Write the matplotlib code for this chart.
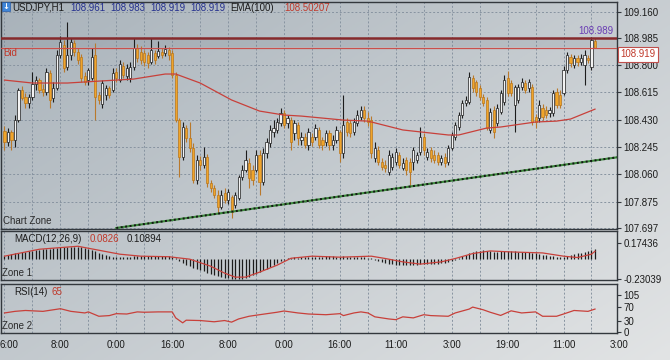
import numpy as np
import matplotlib
matplotlib.use("Agg")
import matplotlib.pyplot as plt
from matplotlib.patches import Rectangle
from matplotlib.transforms import blended_transform_factory

plt.rcParams['font.family'] = ['Liberation Sans', 'DejaVu Sans']

# --- USDJPY H1 bars ---
opens = [108.354, 108.279, 108.347, 108.293, 108.428, 108.632, 108.584, 108.544, 108.584, 108.672,
         108.699, 108.638, 108.618, 108.747, 108.577, 108.645, 108.869, 108.936, 108.787, 108.869,
         108.950, 108.889, 108.855, 108.726, 108.699, 108.713, 108.869, 108.598, 108.537, 108.598,
         108.645, 108.632, 108.754, 108.699, 108.794, 108.726, 108.713, 108.787, 108.916, 108.889,
         108.882, 108.869, 108.821, 108.882, 108.862, 108.889, 108.882, 108.903, 108.882, 108.733,
         108.428, 108.178, 108.374, 108.306, 108.239, 108.022, 108.157, 108.123, 108.178, 108.002,
         107.968, 107.920, 107.839, 107.934, 107.886, 107.907, 107.852, 107.900, 108.042, 108.090,
         108.137, 108.090, 108.090, 108.191, 108.008, 108.205, 108.273, 108.347, 108.361, 108.408,
         108.476, 108.408, 108.428, 108.340, 108.395, 108.293, 108.313, 108.259, 108.313, 108.313,
         108.361, 108.293, 108.279, 108.340, 108.259, 108.293, 108.347, 108.205, 108.415, 108.408,
         108.347, 108.408, 108.449, 108.496, 108.442, 108.428, 108.171, 108.225, 108.144, 108.123,
         108.076, 108.110, 108.144, 108.191, 108.103, 108.157, 108.144, 108.144, 108.157, 108.212,
         108.313, 108.178, 108.225, 108.191, 108.191, 108.144, 108.178, 108.144, 108.239, 108.313,
         108.381, 108.462, 108.544, 108.550, 108.713, 108.686, 108.645, 108.584, 108.564, 108.361,
         108.496, 108.408, 108.483, 108.550, 108.713, 108.679, 108.530, 108.564, 108.652, 108.679,
         108.645, 108.652, 108.449, 108.442, 108.510, 108.496, 108.476, 108.476, 108.618, 108.598,
         108.611, 108.767, 108.855, 108.801, 108.848, 108.821, 108.801, 108.848, 108.787, 108.961]
highs = [108.388, 108.374, 108.361, 108.462, 108.645, 108.659, 108.611, 108.605, 108.754, 108.726,
         108.713, 108.672, 108.781, 108.767, 108.686, 108.903, 108.997, 108.970, 109.092, 108.984,
         108.970, 108.916, 108.876, 108.754, 108.781, 108.916, 108.950, 108.618, 108.699, 108.665,
         108.659, 108.781, 108.781, 108.835, 108.821, 108.808, 108.821, 108.984, 108.943, 108.930,
         108.903, 108.889, 108.984, 108.903, 108.964, 108.916, 108.936, 108.923, 108.903, 108.754,
         108.442, 108.415, 108.395, 108.415, 108.273, 108.191, 108.184, 108.245, 108.198, 108.022,
         107.988, 107.954, 107.954, 107.968, 107.961, 107.920, 107.941, 108.056, 108.123, 108.225,
         108.171, 108.123, 108.225, 108.225, 108.239, 108.306, 108.395, 108.428, 108.442, 108.510,
         108.496, 108.462, 108.449, 108.428, 108.415, 108.347, 108.340, 108.374, 108.340, 108.401,
         108.381, 108.313, 108.361, 108.361, 108.327, 108.388, 108.361, 108.598, 108.442, 108.428,
         108.442, 108.496, 108.523, 108.523, 108.483, 108.455, 108.279, 108.252, 108.171, 108.157,
         108.225, 108.205, 108.239, 108.212, 108.171, 108.178, 108.171, 108.245, 108.212, 108.381,
         108.340, 108.239, 108.245, 108.225, 108.212, 108.191, 108.205, 108.259, 108.347, 108.415,
         108.483, 108.564, 108.591, 108.754, 108.733, 108.699, 108.665, 108.605, 108.584, 108.510,
         108.523, 108.537, 108.632, 108.733, 108.760, 108.699, 108.665, 108.672, 108.713, 108.699,
         108.706, 108.672, 108.469, 108.564, 108.537, 108.523, 108.516, 108.632, 108.645, 108.632,
         108.794, 108.889, 108.876, 108.869, 108.869, 108.876, 108.903, 108.869, 108.989, 108.983]
lows = [108.225, 108.252, 108.225, 108.245, 108.415, 108.564, 108.510, 108.510, 108.564, 108.632,
        108.611, 108.591, 108.598, 108.510, 108.550, 108.632, 108.848, 108.754, 108.767, 108.835,
        108.862, 108.808, 108.686, 108.665, 108.665, 108.699, 108.428, 108.537, 108.510, 108.564,
        108.577, 108.618, 108.686, 108.686, 108.713, 108.699, 108.686, 108.767, 108.821, 108.808,
        108.794, 108.781, 108.808, 108.808, 108.848, 108.848, 108.862, 108.835, 108.713, 108.415,
        108.042, 108.157, 108.279, 108.212, 108.002, 107.995, 108.090, 108.103, 107.974, 107.941,
        107.900, 107.798, 107.825, 107.866, 107.859, 107.764, 107.832, 107.886, 108.022, 108.076,
        107.968, 107.988, 108.076, 107.920, 107.988, 108.171, 108.245, 108.313, 108.340, 108.388,
        108.374, 108.374, 108.225, 108.293, 108.259, 108.259, 108.239, 108.225, 108.252, 108.293,
        108.239, 108.225, 108.252, 108.225, 108.225, 108.273, 108.144, 108.171, 108.320, 108.313,
        108.327, 108.388, 108.428, 108.415, 108.388, 108.171, 108.144, 108.123, 108.090, 108.076,
        108.056, 108.090, 108.123, 108.103, 108.090, 108.056, 107.974, 108.090, 108.137, 108.191,
        108.191, 108.157, 108.144, 108.137, 108.123, 108.123, 108.110, 108.123, 108.225, 108.293,
        108.361, 108.442, 108.523, 108.537, 108.618, 108.591, 108.564, 108.523, 108.361, 108.340,
        108.306, 108.388, 108.469, 108.530, 108.591, 108.591, 108.347, 108.544, 108.632, 108.611,
        108.618, 108.395, 108.374, 108.415, 108.428, 108.442, 108.449, 108.455, 108.510, 108.510,
        108.598, 108.747, 108.787, 108.781, 108.794, 108.801, 108.665, 108.815, 108.767, 108.919]
closes = [108.279, 108.347, 108.293, 108.428, 108.632, 108.577, 108.544, 108.584, 108.672, 108.699,
          108.632, 108.618, 108.754, 108.564, 108.645, 108.869, 108.957, 108.781, 108.869, 108.957,
          108.889, 108.835, 108.713, 108.686, 108.767, 108.855, 108.584, 108.564, 108.679, 108.645,
          108.598, 108.747, 108.713, 108.808, 108.733, 108.781, 108.787, 108.916, 108.848, 108.835,
          108.821, 108.815, 108.903, 108.835, 108.896, 108.869, 108.909, 108.869, 108.733, 108.428,
          108.178, 108.381, 108.306, 108.239, 108.022, 108.157, 108.123, 108.178, 108.002, 107.968,
          107.920, 107.839, 107.920, 107.886, 107.941, 107.805, 107.920, 108.042, 108.090, 108.157,
          108.035, 108.022, 108.191, 108.008, 108.205, 108.279, 108.361, 108.374, 108.415, 108.476,
          108.395, 108.442, 108.279, 108.408, 108.306, 108.313, 108.259, 108.347, 108.279, 108.374,
          108.259, 108.259, 108.340, 108.259, 108.293, 108.361, 108.205, 108.395, 108.347, 108.340,
          108.415, 108.462, 108.496, 108.442, 108.415, 108.205, 108.239, 108.144, 108.110, 108.103,
          108.191, 108.178, 108.212, 108.123, 108.137, 108.090, 108.076, 108.225, 108.191, 108.313,
          108.225, 108.212, 108.171, 108.157, 108.144, 108.171, 108.137, 108.239, 108.327, 108.395,
          108.462, 108.544, 108.564, 108.720, 108.645, 108.618, 108.584, 108.544, 108.374, 108.483,
          108.347, 108.510, 108.611, 108.699, 108.611, 108.611, 108.652, 108.652, 108.686, 108.632,
          108.686, 108.415, 108.415, 108.530, 108.449, 108.462, 108.496, 108.611, 108.530, 108.530,
          108.767, 108.869, 108.815, 108.848, 108.821, 108.848, 108.869, 108.835, 108.970, 108.919]

# EMA(100) line, read at a few points along the curve
ema_idx = [0, 8, 18, 27, 37, 46, 49, 56, 65, 73, 80, 85, 97, 104, 114, 127, 130, 138, 142, 152, 158, 162, 169]
ema_vals = [108.699, 108.679, 108.679, 108.692, 108.706, 108.740, 108.740, 108.679, 108.564, 108.489,
            108.462, 108.455, 108.428, 108.421, 108.361, 108.327, 108.327, 108.374, 108.381, 108.415,
            108.421, 108.435, 108.50207]

# horizontal levels and trend line
resistance = 108.985
day_high = 108.989
trend_idx = [32, 176]
trend_vals = [107.697, 108.178]

# MACD(12,26,9): main as histogram, signal as line
macd_hist = [0.030, 0.040, 0.050, 0.058, 0.065, 0.072, 0.078, 0.085, 0.090, 0.095,
             0.100, 0.104, 0.108, 0.112, 0.118, 0.124, 0.128, 0.131, 0.133, 0.134,
             0.133, 0.131, 0.128, 0.120, 0.108, 0.095, 0.080, 0.065, 0.050, 0.038,
             0.028, 0.020, 0.015, 0.018, 0.020, 0.022, 0.024, 0.028, 0.030, 0.032,
             0.030, 0.028, 0.030, 0.032, 0.030, 0.028, 0.027, 0.025, 0.020, 0.005,
             -0.030, -0.050, -0.065, -0.080, -0.100, -0.115, -0.130, -0.140, -0.155, -0.165,
             -0.178, -0.190, -0.200, -0.210, -0.218, -0.224, -0.228, -0.226, -0.220, -0.210,
             -0.198, -0.185, -0.170, -0.150, -0.130, -0.110, -0.090, -0.070, -0.050, -0.030,
             -0.012, 0.005, 0.010, 0.015, 0.012, 0.018, 0.020, 0.022, 0.020, 0.018,
             0.020, 0.022, 0.025, 0.028, 0.025, 0.020, 0.022, 0.025, 0.022, 0.020,
             0.018, 0.020, 0.022, 0.015, 0.010, 0.005, -0.010, -0.025, -0.035, -0.045,
             -0.055, -0.060, -0.065, -0.068, -0.070, -0.072, -0.075, -0.072, -0.070, -0.062,
             -0.060, -0.058, -0.060, -0.058, -0.055, -0.052, -0.048, -0.040, -0.025, -0.010,
             0.010, 0.030, 0.045, 0.065, 0.075, 0.085, 0.090, 0.092, 0.088, 0.080,
             0.078, 0.078, 0.080, 0.082, 0.085, 0.083, 0.080, 0.078, 0.076, 0.075,
             0.074, 0.065, 0.058, 0.052, 0.045, 0.038, 0.030, 0.025, 0.020, 0.015,
             0.018, 0.028, 0.040, 0.050, 0.058, 0.065, 0.075, 0.085, 0.095, 0.10894]
sig_idx = [0, 10, 21, 27, 33, 39, 47, 53, 59, 63, 66, 69, 73, 78, 82, 88, 96, 105, 109, 114,
           119, 125, 129, 134, 139, 145, 154, 160, 164, 168, 169]
sig_vals = [0.028, 0.105, 0.138, 0.094, 0.050, 0.028, 0.022, -0.005, -0.083, -0.160, -0.204,
            -0.204, -0.149, -0.072, 0.005, 0.028, 0.017, 0.028, 0.002, -0.035, -0.060, -0.035,
            0.002, 0.057, 0.086, 0.075, 0.064, 0.028, 0.013, 0.050, 0.0826]
macd_ticks = [0.17436, -0.23039]

# RSI(14)
rsi_idx = [0, 3, 6, 11, 14, 16, 19, 23, 24, 27, 30, 32, 35, 38, 40, 44, 48, 49, 51, 52,
           56, 60, 63, 65, 67, 70, 73, 78, 80, 84, 87, 92, 96, 97, 100, 102, 104, 106, 110, 112,
           114, 117, 120, 122, 127, 129, 133, 134, 137, 139, 142, 145, 148, 152, 154, 158, 160, 163, 167, 169]
rsi_vals = [54, 58.5, 61, 58.5, 63, 66, 58.5, 54, 57, 44.6, 46.5, 52, 51, 57, 56, 57, 57, 40, 26, 33.5,
            32.5, 29, 32.5, 28, 37, 44.6, 49, 56, 59.5, 54, 51, 49, 52, 46.5, 54, 57, 54, 43, 37, 35,
            43, 40, 49, 46.5, 44.6, 54, 65, 70.6, 63, 56, 47, 60, 54, 57, 44.6, 44.6, 51, 61, 58.5, 65]
rsi_ticks = [105, 70, 30, 0]

price_ticks = [109.160, 108.985, 108.800, 108.615, 108.430, 108.245, 108.060, 107.875, 107.697]
# first label is the tail of "16:00" cut by the left edge
time_labels = ["6:00", "8:00", "0:00", "16:00", "8:00", "0:00", "16:00", "11:00", "3:00", "19:00", "11:00", "3:00"]
time_idx = [0, 16, 32, 48, 64, 80, 96, 112, 128, 144, 160, 176]

W, H = 670, 360
RED = '#c8403a'
INK = '#1c1c1c'


def px_rect(x0, y0, x1, y1):
    # pixel box with top-left origin -> figure fraction rect
    return [x0 / W, 1 - y1 / H, (x1 - x0) / W, (y1 - y0) / H]


def fx(x):
    return x / W


def fy(y):
    return 1 - y / H


fig = plt.figure(figsize=(6.7, 3.6), dpi=100)

# gradient backdrop
bg = fig.add_axes([0, 0, 1, 1], zorder=-10)
gx, gy = np.meshgrid(np.linspace(0, 1, 240), np.linspace(0, 1, 130))
t = 0.55 * gx + 0.45 * gy
dark = np.array([168, 178, 186]) / 255
light = np.array([226, 228, 229]) / 255
bg.imshow(dark + (light - dark) * t[..., None], aspect='auto', extent=[0, 1, 0, 1], origin='upper')
bg.axis('off')

ax = fig.add_axes(px_rect(1, 2, 617, 229))
ax_m = fig.add_axes(px_rect(1, 231, 617, 280))
ax_r = fig.add_axes(px_rect(1, 284, 617, 333))

for a in (ax, ax_m, ax_r):
    a.set_facecolor('none')
    for s in a.spines.values():
        s.set_color('#33383d')
        s.set_linewidth(1.0)
    a.yaxis.tick_right()
    a.tick_params(axis='y', direction='out', length=3, width=0.8, color='#33383d',
                  labelsize=7, pad=1.5, labelcolor=INK)
    a.tick_params(axis='x', length=0, labelbottom=False)
    a.set_xlim(-1.0, 175.3)
    a.set_xticks(range(0, 176, 8))
    a.grid(True, axis='x', ls=(0, (2, 2)), color='#8793a0', lw=0.7)
    a.set_axisbelow(True)
ax.grid(True, axis='y', ls=(0, (2, 2)), color='#8793a0', lw=0.7)

# --- main price panel ---
x = np.arange(len(closes))
o = np.array(opens)
c = np.array(closes)
up = c >= o
wick_col = np.where(up, INK, '#b9792c')
body_col = np.where(up, '#f3f3f3', '#f0a52a')
edge_col = np.where(up, INK, '#b8761d')

ax.axhspan(108.926, resistance - 0.002, color='#5f6a74', alpha=0.13, lw=0)
ax.vlines(x, lows, highs, colors=wick_col, lw=0.8, zorder=2)
ax.bar(x, np.maximum(np.abs(c - o), 0.003), bottom=np.minimum(o, c), width=0.62,
       color=body_col, edgecolor=edge_col, linewidth=0.5, zorder=3)
ax.plot(ema_idx, ema_vals, color=RED, lw=0.9, zorder=4)
ax.axhline(resistance, color='#862a2c', lw=1.8, zorder=5)
ax.axhline(closes[-1], color='#c9504c', lw=0.9, zorder=5)
ax.plot(trend_idx, trend_vals, color='#3b8a3b', lw=1.5, zorder=4)
ax.plot(trend_idx, trend_vals, color='#151515', lw=1.4, ls=(0, (1, 1.3)), zorder=4)

ax.set_ylim(107.690, 109.228)
ax.set_yticks(price_ticks)
ax.set_yticklabels([f"{p:.3f}" for p in price_ticks])

mix = blended_transform_factory(ax.transAxes, ax.transData)
ax.text(1.006, closes[-1] - 0.012, f"{closes[-1]:.3f}", transform=mix, ha='left', va='top',
        fontsize=7, color='#c0392b', zorder=10,
        bbox=dict(boxstyle='square,pad=0.25', fc='white', ec='#c0504d', lw=0.8))
ax.text(0.995, day_high + 0.012, f"{day_high:.3f}", transform=mix, ha='right', va='bottom',
        fontsize=7, color='#6a3db3')

# --- MACD panel ---
ax_m.vlines(x, 0, macd_hist, colors=INK, lw=0.9)
ax_m.plot(sig_idx, sig_vals, color=RED, lw=0.9)
ax_m.set_ylim(-0.236, 0.307)
ax_m.set_yticks(macd_ticks)
ax_m.set_yticklabels([f"{v:.5f}" for v in macd_ticks])

# --- RSI panel ---
ax_r.plot(rsi_idx, rsi_vals, color=RED, lw=0.9)
ax_r.set_ylim(-2.8, 136)
ax_r.set_yticks(rsi_ticks)
ax_r.set_yticklabels([str(v) for v in rsi_ticks])

tx = blended_transform_factory(ax_r.transData, fig.transFigure)
for i, lbl in zip(time_idx, time_labels):
    if i == 0:
        fig.text(0.0, fy(345), lbl, ha='left', va='center', fontsize=7, color=INK)
        continue
    ax_r.text(i, fy(345), lbl, transform=tx, ha='center', va='center', fontsize=7,
              color=INK, clip_on=False)

# --- header and panel captions ---
fig.patches.append(Rectangle((fx(2), fy(11)), 8 / W, 9 / H, transform=fig.transFigure,
                             fc='#3f86d8', ec='#2a5ea8', lw=0.5))
fig.text(fx(6), fy(6.5), "\u2193", color='white', fontsize=6, ha='center', va='center',
         family='DejaVu Sans', fontweight='bold')
header = [("USDJPY,H1", 12, INK), (f"{opens[-1]:.3f}", 70, '#24308f'),
          (f"{highs[-1]:.3f}", 110, '#24308f'), (f"{lows[-1]:.3f}", 150, '#24308f'),
          (f"{closes[-1]:.3f}", 190, '#24308f'), ("EMA(100)", 230, INK),
          (f"{ema_vals[-1]:.5f}", 284, '#c0392b')]
for s, xp, col in header:
    fig.text(fx(xp), fy(8), s, fontsize=7, color=col, ha='left', va='center')

fig.text(fx(3), fy(53), "Bid", fontsize=7, color='#c0392b', ha='left', va='center')
fig.text(fx(3), fy(221), "Chart Zone", fontsize=7, color='#2a2a2a', ha='left', va='center')
fig.text(fx(14), fy(239), "MACD(12,26,9)", fontsize=7, color=INK, ha='left', va='center')
fig.text(fx(90), fy(239), f"{sig_vals[-1]:.4f}", fontsize=7, color='#c0392b', ha='left', va='center')
fig.text(fx(127), fy(239), f"{macd_hist[-1]:.5f}", fontsize=7, color=INK, ha='left', va='center')
fig.text(fx(2), fy(273), "Zone 1", fontsize=7, color='#2a2a2a', ha='left', va='center')
fig.text(fx(14), fy(292), "RSI(14)", fontsize=7, color=INK, ha='left', va='center')
fig.text(fx(52), fy(292), f"{rsi_vals[-1]}", fontsize=7, color='#c0392b', ha='left', va='center')
fig.text(fx(2), fy(326), "Zone 2", fontsize=7, color='#2a2a2a', ha='left', va='center')

fig.savefig("out.png", dpi=100)
